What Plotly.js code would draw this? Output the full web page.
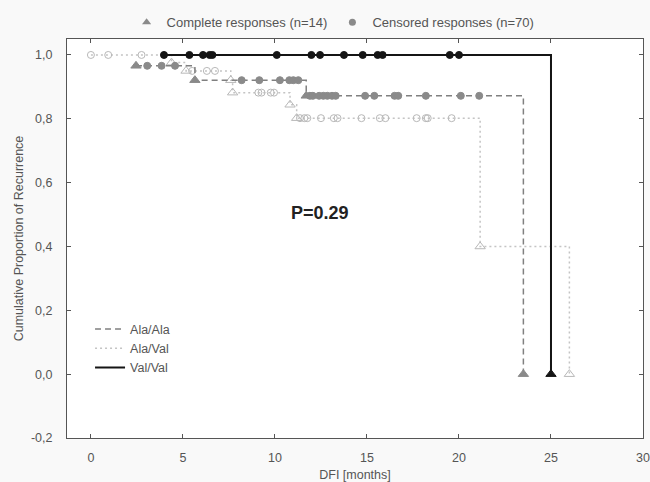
<!DOCTYPE html>
<html><head><meta charset="utf-8">
<script src="https://cdn.plot.ly/plotly-3.0.1.min.js"></script>
<style>html,body{margin:0;padding:0;background:#f9f9f9}#chart{width:650px;height:482px}</style>
</head><body><div id="chart"></div>
<script>
// ---- data ----
const groupNames = ['Ala/Ala', 'Ala/Val', 'Val/Val'];

// Ala/Ala: step vertices (time, cumulative proportion after step)
const alaAlaStepT = [2.45, 5.65, 11.7, 23.5];
const alaAlaStepP = [0.966, 0.921, 0.872, 0.0];
const alaAlaEventT = [2.45, 5.65, 11.7, 23.5];
const alaAlaCensT = [3.06, 3.84, 4.57, 8.19, 9.15, 10.27, 10.78, 11.0, 11.27, 11.9, 12.06, 12.4, 12.63, 12.85, 13.1, 13.3, 14.9, 15.4, 16.5, 16.7, 18.2, 20.1, 21.1];

// Ala/Val
const alaValStepT = [0, 4.38, 5.17, 7.6, 7.7, 10.82, 11.18, 21.15, 26];
const alaValStepP = [1.0, 0.976, 0.95, 0.921, 0.882, 0.844, 0.802, 0.4, 0.0];
const alaValEventT = [4.38, 5.17, 7.6, 7.7, 10.82, 11.18, 21.15, 26];
const alaValCensT = [0, 0.94, 2.75, 5.5, 6.3, 6.74, 9.1, 9.27, 9.77, 9.95, 11.36, 11.6, 11.76, 12.5, 13.2, 13.4, 14.7, 15.7, 16.0, 17.7, 18.2, 18.3, 19.6];

// Val/Val
const valValStepT = [3.97, 25];
const valValStepP = [1.0, 0.0];
const valValEventT = [25];
const valValCensT = [3.97, 5.35, 6.09, 6.45, 6.6, 10.1, 11.98, 12.45, 13.75, 14.77, 15.58, 15.85, 19.5, 20.0];

const topLegendNames = ['Complete responses (n=14)', 'Censored responses (n=70)'];
const xTickVals = [0, 5, 10, 15, 20, 25, 30];
const yTickVals = [-0.2, 0, 0.2, 0.4, 0.6, 0.8, 1.0];
const yTickLabels = ['-0,2', '0,0', '0,2', '0,4', '0,6', '0,8', '1,0'];
const pLabel = 'P=0.29';

// ---- helpers ----
function stepAt(T, P, t) {
  let v = P[0];
  for (let i = 0; i < T.length; i++) { if (T[i] <= t + 1e-9) v = P[i]; }
  return v;
}

const FONT = 'Liberation Sans, Arial, sans-serif';
const styles = {
  'Ala/Ala': {line: {color: '#808080', width: 1.5, dash: '6px,4px'}, mcol: '#8a8a8a', ev: 'triangle-up', ce: 'circle', lw: 0},
  'Ala/Val': {line: {color: '#c4c4c4', width: 1.5, dash: '2px,3px'}, mcol: '#b8b8b8', ev: 'triangle-up-open', ce: 'circle-open', lw: 1},
  'Val/Val': {line: {color: '#151515', width: 2}, mcol: '#151515', ev: 'triangle-up', ce: 'circle', lw: 0}
};
const series = {
  'Ala/Ala': [alaAlaStepT, alaAlaStepP, alaAlaEventT, alaAlaCensT],
  'Ala/Val': [alaValStepT, alaValStepP, alaValEventT, alaValCensT],
  'Val/Val': [valValStepT, valValStepP, valValEventT, valValCensT]
};

const traces = [];
['Ala/Val', 'Ala/Ala', 'Val/Val'].forEach(g => {
  const [T, P, E, C] = series[g];
  const s = styles[g];
  traces.push({x: T, y: P, type: 'scatter', mode: 'lines', name: g, legend: 'legend2',
    legendrank: groupNames.indexOf(g) + 1,
    line: Object.assign({shape: 'hv'}, s.line), hoverinfo: 'skip'});
  traces.push({x: C, y: C.map(t => stepAt(T, P, t)), type: 'scatter', mode: 'markers', showlegend: false,
    marker: {symbol: s.ce, size: 7, color: s.mcol, line: {color: s.mcol, width: s.lw || 1}}});
  traces.push({x: E, y: E.map(t => stepAt(T, P, t)), type: 'scatter', mode: 'markers', showlegend: false,
    marker: {symbol: s.ev, size: 9, color: s.mcol, line: {color: s.mcol, width: s.lw || 1}}});
});
// top legend entries
traces.push({x: [null], y: [null], type: 'scatter', mode: 'markers', name: topLegendNames[0], legend: 'legend',
  marker: {symbol: 'triangle-up', size: 8, color: '#8a8a8a'}});
traces.push({x: [null], y: [null], type: 'scatter', mode: 'markers', name: topLegendNames[1], legend: 'legend',
  marker: {symbol: 'circle', size: 7, color: '#8a8a8a'}});

const layout = {
  width: 650, height: 482,
  margin: {l: 67, r: 7, t: 37, b: 44},
  paper_bgcolor: '#f9f9f9', plot_bgcolor: '#ffffff',
  font: {family: FONT, size: 12, color: '#555'},
  xaxis: {range: [-1.3, 30], tickvals: xTickVals, ticks: 'inside', ticklen: 4, tickcolor: '#555',
    showline: true, linecolor: '#555', linewidth: 1, mirror: 'ticks', showgrid: false, zeroline: false,
    ticklabelstandoff: 8, automargin: false, tickfont: {size: 12.5},
    title: {text: 'DFI [months]', font: {size: 12.5, color: '#555'}, standoff: 8}},
  yaxis: {range: [-0.2, 1.05], tickvals: yTickVals, ticktext: yTickLabels, ticks: 'inside', ticklen: 4, tickcolor: '#555',
    showline: true, linecolor: '#555', linewidth: 1, mirror: 'ticks', showgrid: false, zeroline: false,
    ticklabelstandoff: 11, automargin: false, tickfont: {size: 12.5},
    title: {text: 'Cumulative Proportion of Recurrence', font: {size: 12.5, color: '#555'}, standoff: 4}},
  legend: {orientation: 'h', x: 0.462, xanchor: 'center', y: 1.042, yanchor: 'middle', bgcolor: 'rgba(0,0,0,0)',
    font: {size: 13, color: '#555'}, traceorder: 'normal'},
  legend2: {x: 0.04, xanchor: 'left', y: 0.31, yanchor: 'top', bgcolor: 'rgba(0,0,0,0)',
    font: {size: 12.5, color: '#555'}, traceorder: 'normal', itemwidth: 30, tracegroupgap: 0},
  annotations: [{x: 12.45, y: 0.505, xref: 'x', yref: 'y', text: '<b>' + pLabel + '</b>', showarrow: false,
    font: {size: 18, color: '#222', family: FONT}}],
  showlegend: true
};

Plotly.newPlot('chart', traces, layout, {staticPlot: true, displayModeBar: false});
</script>
</body></html>
